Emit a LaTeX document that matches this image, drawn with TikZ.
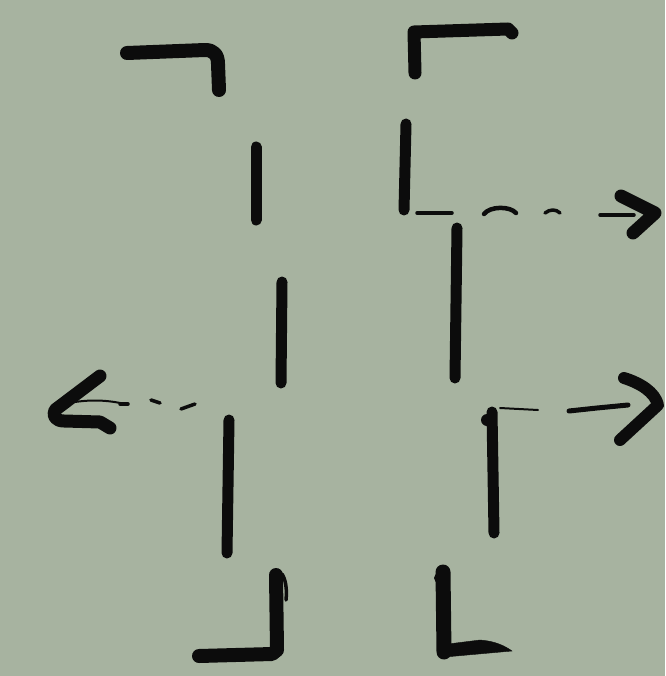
\documentclass[tikz,border=0pt]{standalone}
\definecolor{sage}{RGB}{167,179,160}
\definecolor{ink}{RGB}{12,12,12}
\tikzset{
  brush/.style={draw=ink, line width=14pt, line cap=round, line join=round},
  pen/.style={draw=ink, line width=11pt, line cap=round, line join=round},
  thin/.style={draw=ink, line width=3.5pt, line cap=round, line join=round},
  hair/.style={draw=ink, line width=2pt, line cap=round},
}
\begin{document}
\begin{tikzpicture}[x=1pt,y=-1pt]
\fill[sage] (0,0) rectangle (665,676);
\useasboundingbox (0,0) rectangle (665,676);
% top-left corner
\draw[brush] (127,53) -- (205,50) .. controls (214,50) and (218,55) .. (218,64) -- (219,90);
% top-right corner
\draw[brush,line width=13pt] (415,73) -- (414,32) -- (508,29) -- (512,33);
% left column dashes
\draw[pen] (256,147) -- (256,220);
\draw[pen] (282,282) -- (281,383);
\draw[pen] (229,420) -- (227,553);
% bottom-left corner
\draw[brush] (199,656) -- (272,654) -- (277,650) -- (276,575);
\draw[thin] (282,574) .. controls (286,580) and (287,590) .. (286,600);
% right column dashes
\draw[pen] (406,124) -- (404,210);
\draw[pen] (457,228) -- (455,378);
\draw[pen] (492,412) -- (494,533);
\fill[ink] (487,420) circle (6);
% bottom-right corner
\draw[brush,line width=15pt] (443,572) -- (444,652);
\fill[ink] (439,578) circle (5);
\draw[ink,fill=ink] (440,645) -- (480,640) .. controls (495,641) and (505,646) .. (512,651) -- (445,657) -- cycle;
% top-right dashed arrow
\draw[thin] (417,213) -- (452,213);
\draw[thin,line width=4.5pt] (484,214) .. controls (490,206) and (510,206) .. (516,213);
\draw[thin] (545,213) .. controls (550,209) and (556,209) .. (560,213);
\draw[thin] (600,215) -- (634,215);
\draw[brush,line width=13pt] (621,196) -- (655,213) -- (633,233);
% middle-right dashed arrow
\draw[hair] (500,408) -- (538,410);
\draw[thin,line width=5pt] (569,411) -- (597,408) -- (628,405);
\draw[brush,line width=12pt] (624,378) .. controls (640,383) and (655,392) .. (658,405) -- (620,440);
% left dashed arrow
\draw[brush,line width=13pt] (100,376) -- (55,410) .. controls (52,416) and (56,421) .. (64,421) -- (100,422) -- (110,428);
\draw[hair] (75,402) .. controls (95,399) and (112,401) .. (125,404);
\draw[thin] (120,404) -- (128,404);
\draw[thin] (151,400) -- (160,403);
\draw[thin] (181,409) -- (195,404);
\end{tikzpicture}
\end{document}
